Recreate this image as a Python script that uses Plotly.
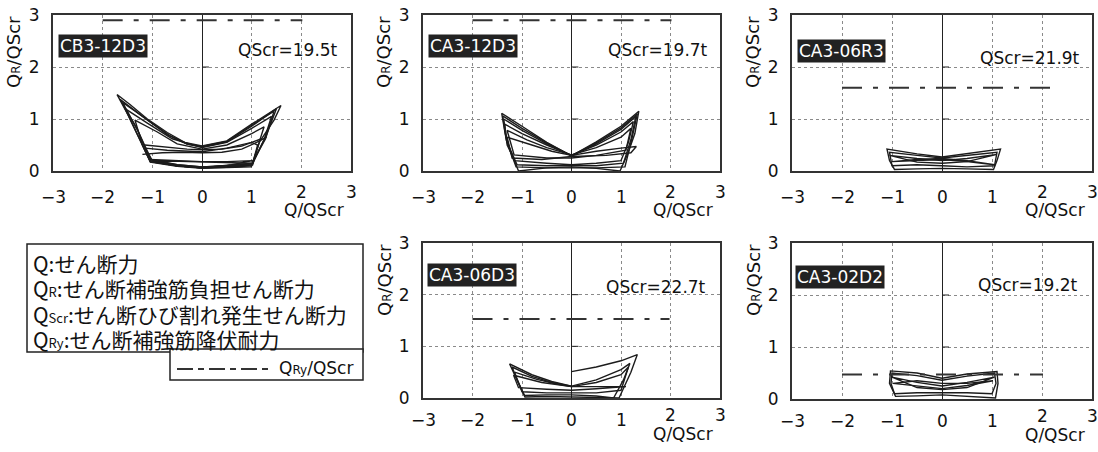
import plotly.graph_objects as go

W, H = 1098, 452

# ---------------- data ----------------
specimens = ["CB3-12D3", "CA3-12D3", "CA3-06R3", "CA3-06D3", "CA3-02D2"]
qscr_t = ["19.5", "19.7", "21.9", "22.7", "19.2"]
qry_ratio = [2.90, 2.90, 1.60, 1.53, 0.47]
qry_x_left = [-2.0, -2.0, -2.0, -2.0, -2.0]
qry_x_right = [2.02, 2.02, 2.22, 1.98, 2.02]

x_ticks = [-3, -2, -1, 0, 1, 2, 3]
x_tick_text = ["−3", "−2", "−1", "0", "1", "2", "3"]
y_ticks = [0, 1, 2, 3]

# hysteresis loops: Q/QScr (x) vs QR/QScr (y)
cb3_12d3_x = [
    [-1.0, -0.5, 0, 0.5, 1.0, 0.5, 0, -0.5, -1.0],
    [-1.05, -0.6, 0, 0.5, 1.02, 0.6, 0, -0.5, -1.05],
    [0, 0.5, 1.0, 1.12, 1.02, 0.5, 0, -0.5, -1.0, -1.15, -0.7, -0.3, 0],
    [0, 0.5, 1.0, 1.25, 1.15, 1.02, 0.5, 0, -0.5, -1.04, -1.2, -1.35, -0.9, -0.5, 0],
    [0, 0.5, 1.0, 1.4, 1.25, 1.0, 0.5, 0, -0.5, -1.04, -1.3, -1.55, -1.1, -0.6, 0],
    [0, 0.5, 1.0, 1.5, 1.3, 1.0, 0.5, 0, -0.5, -1.04, -1.3, -1.65, -1.2, -0.7, -0.3, 0],
    [0, 0.5, 1.0, 1.45, 1.28, 1.0, 0.5, 0, -0.5, -1.02, -1.28, -1.6, -1.15, -0.65, -0.3, 0],
    [0, 0.5, 1.0, 1.35, 1.59, 1.45, 1.3, 1.16, 0.99, 0.5, 0, -0.5, -1.04, -1.25, -1.5, -1.71, -1.45, -1.1, -0.7, -0.35, 0],
    [-1.2, -0.8, -0.4, 0, 0.4, 0.8, 1.1, 1.3],
    [-1.15, -0.7, -0.3, 0, 0.4, 0.8, 1.05, 1.2],
]
cb3_12d3_y = [
    [0.20, 0.19, 0.17, 0.16, 0.15, 0.10, 0.08, 0.12, 0.20],
    [0.22, 0.20, 0.18, 0.18, 0.20, 0.12, 0.06, 0.10, 0.22],
    [0.37, 0.44, 0.55, 0.50, 0.15, 0.10, 0.07, 0.10, 0.20, 0.44, 0.40, 0.38, 0.37],
    [0.42, 0.50, 0.72, 0.85, 0.55, 0.12, 0.08, 0.06, 0.10, 0.18, 0.50, 0.98, 0.75, 0.52, 0.42],
    [0.45, 0.55, 0.82, 1.05, 0.60, 0.10, 0.07, 0.06, 0.10, 0.18, 0.70, 1.20, 0.92, 0.62, 0.45],
    [0.46, 0.56, 0.86, 1.20, 0.70, 0.12, 0.08, 0.06, 0.10, 0.20, 0.80, 1.38, 1.05, 0.70, 0.52, 0.46],
    [0.47, 0.57, 0.88, 1.15, 0.62, 0.14, 0.10, 0.08, 0.12, 0.22, 0.75, 1.32, 1.02, 0.68, 0.52, 0.47],
    [0.48, 0.58, 0.90, 1.12, 1.26, 0.98, 0.76, 0.56, 0.08, 0.06, 0.05, 0.09, 0.17, 0.60, 1.10, 1.47, 1.28, 1.00, 0.74, 0.55, 0.48],
    [0.32, 0.35, 0.36, 0.35, 0.36, 0.42, 0.55, 0.65],
    [0.50, 0.45, 0.42, 0.41, 0.42, 0.48, 0.56, 0.62],
]

ca3_12d3_x = [
    [0, 0.5, 1.0, 1.36, 1.28, 1.14, 0.98, 0.5, 0, -0.5, -1.07, -1.24, -1.34, -1.41, -1.0, -0.5, 0],
    [0, 0.5, 1.0, 1.33, 1.22, 1.08, 0.5, 0, -0.5, -1.12, -1.32, -1.39, -1.0, -0.5, 0],
    [0, 0.5, 1.0, 1.3, 1.2, 1.05, 0.5, 0, -0.5, -1.1, -1.3, -1.37, -1.0, -0.5, 0],
    [0, 0.5, 1.0, 1.25, 1.15, 1.0, 0.5, 0, -0.5, -1.15, -1.3, -1.35, -1.0, -0.5, 0],
    [0, 0.5, 1.0, 1.2, 1.1, 0.5, 0, -0.5, -1.16, -1.3, -0.9, -0.5, 0],
    [0, 0.5, 1.0, 1.31, 1.2, 0.7, 0, -0.6, -1.2, -1.3, -0.8, -0.4, 0],
]
ca3_12d3_y = [
    [0.29, 0.56, 0.86, 1.15, 0.72, 0.34, 0.0, 0.05, 0.08, 0.06, 0.0, 0.40, 0.72, 1.11, 0.86, 0.55, 0.29],
    [0.29, 0.54, 0.83, 1.10, 0.62, 0.08, 0.06, 0.06, 0.06, 0.08, 0.60, 1.06, 0.82, 0.54, 0.29],
    [0.30, 0.52, 0.80, 1.05, 0.60, 0.15, 0.10, 0.10, 0.10, 0.12, 0.55, 1.00, 0.78, 0.52, 0.30],
    [0.30, 0.50, 0.75, 0.95, 0.55, 0.20, 0.15, 0.12, 0.15, 0.20, 0.50, 0.90, 0.72, 0.50, 0.30],
    [0.31, 0.45, 0.65, 0.82, 0.40, 0.30, 0.25, 0.25, 0.31, 0.78, 0.60, 0.45, 0.31],
    [0.30, 0.38, 0.44, 0.47, 0.35, 0.30, 0.28, 0.22, 0.25, 0.65, 0.50, 0.38, 0.30],
]

ca3_06r3_x = [
    [0, 0.5, 1.17, 1.1, 1.03, 0.5, 0, -0.5, -0.95, -1.05, -1.1, -0.5, 0],
    [0, 0.5, 1.1, 1.05, 0.5, 0, -0.5, -1.0, -1.05, -0.5, 0],
    [-1.05, -0.5, 0, 0.5, 1.1, 0.5, 0, -0.5, -1.05],
    [-1.0, -0.5, 0, 0.5, 1.05, 0.5, 0, -0.5, -1.0],
]
ca3_06r3_y = [
    [0.27, 0.33, 0.42, 0.20, 0.03, 0.04, 0.05, 0.04, 0.03, 0.20, 0.42, 0.33, 0.27],
    [0.25, 0.30, 0.36, 0.10, 0.08, 0.10, 0.12, 0.10, 0.36, 0.30, 0.25],
    [0.30, 0.24, 0.20, 0.24, 0.32, 0.18, 0.15, 0.17, 0.30],
    [0.18, 0.20, 0.22, 0.18, 0.12, 0.20, 0.24, 0.22, 0.18],
]

ca3_06d3_x = [
    [0, 0.5, 1.0, 1.33, 1.2, 1.08, 0.96, 0.5, 0, -0.5, -0.94, -1.05, -1.15, -1.25, -0.8, -0.4, 0],
    [0, 0.5, 1.0, 1.18, 1.05, 0.85, 0.5, 0, -0.5, -0.95, -1.1, -1.2, -0.8, -0.4, 0],
    [0, 0.5, 1.0, 1.15, 1.0, 0.5, 0, -0.5, -1.0, -1.15, -0.7, -0.3, 0],
    [0, 0.5, 1.1, 0.5, 0, -0.5, -1.07, -1.17, -0.6, 0],
]
ca3_06d3_y = [
    [0.51, 0.60, 0.72, 0.84, 0.50, 0.25, 0.0, 0.01, 0.02, 0.03, 0.02, 0.25, 0.45, 0.66, 0.45, 0.32, 0.23],
    [0.23, 0.35, 0.55, 0.67, 0.35, 0.0, 0.04, 0.06, 0.06, 0.05, 0.35, 0.60, 0.42, 0.30, 0.23],
    [0.22, 0.30, 0.45, 0.60, 0.15, 0.10, 0.10, 0.10, 0.12, 0.50, 0.36, 0.27, 0.22],
    [0.22, 0.22, 0.22, 0.18, 0.15, 0.17, 0.20, 0.44, 0.30, 0.22],
]

ca3_02d2_x = [
    [0, 0.5, 1.1, 1.12, 1.07, 0.5, 0, -0.5, -0.93, -1.05, -1.03, -0.5, 0],
    [0, 0.5, 1.05, 1.08, 1.0, 0.5, 0, -0.5, -0.95, -1.02, -1.0, -0.5, 0],
    [-1.0, -0.5, 0, 0.5, 1.05, 0.5, 0, -0.5, -1.0],
    [-0.98, -0.5, 0, 0.5, 1.02, 0.5, 0, -0.5, -0.98],
]
ca3_02d2_y = [
    [0.40, 0.48, 0.53, 0.30, 0.02, 0.05, 0.08, 0.06, 0.05, 0.30, 0.54, 0.50, 0.40],
    [0.36, 0.44, 0.50, 0.30, 0.10, 0.12, 0.12, 0.12, 0.10, 0.30, 0.50, 0.45, 0.36],
    [0.42, 0.32, 0.25, 0.32, 0.42, 0.22, 0.18, 0.22, 0.42],
    [0.30, 0.25, 0.20, 0.26, 0.35, 0.30, 0.30, 0.35, 0.30],
]

loops_x = [cb3_12d3_x, ca3_12d3_x, ca3_06r3_x, ca3_06d3_x, ca3_02d2_x]
loops_y = [cb3_12d3_y, ca3_12d3_y, ca3_06r3_y, ca3_06d3_y, ca3_02d2_y]

legend_lines = [
    "Q:せん断力",
    "Q<span style='font-size:13px'>R</span>:せん断補強筋負担せん断力",
    "Q<span style='font-size:13px'>Scr</span>:せん断ひび割れ発生せん断力",
    "Q<span style='font-size:13px'>Ry</span>:せん断補強筋降伏耐力",
]

# ---------------- layout helpers ----------------
FONT = "DejaVu Sans, Noto Sans CJK JP, sans-serif"
JFONT = "Noto Sans CJK JP, DejaVu Sans, sans-serif"

# plot boxes in pixels: left, right, top, bottom
boxes = [(53, 351, 15, 171), (423, 720, 15, 171), (792, 1092, 15, 171),
         (423, 720, 243, 398), (792, 1092, 243, 399)]
label_pos = [(58, 46), (428, 46), (797, 51), (427, 275), (795, 277)]
qscr_pos = [(340, 50), (710, 50), (1082, 58), (708, 287), (1080, 285)]
# offsets below the box for tick labels (normal, raised) and x title
tick_off = [(26, 21), (26, 21), (26, 21), (22, 17), (22, 17)]
xtitle_off = [39, 39, 39, 36, 36]


def px(x):
    return x / W


def py(y):
    return 1 - y / H


fig = go.Figure()
layout = dict(width=W, height=H, margin=dict(l=0, r=0, t=0, b=0, autoexpand=False),
              paper_bgcolor="white", plot_bgcolor="white", showlegend=False)
annotations = []
shapes = []

for i in range(5):
    sfx = "" if i == 0 else str(i + 1)
    xa, ya = "x" + sfx, "y" + sfx
    for lx, ly in zip(loops_x[i], loops_y[i]):
        fig.add_trace(go.Scatter(x=lx, y=ly, mode="lines", xaxis=xa, yaxis=ya,
                                 line=dict(color="#1c1c1c", width=1.4),
                                 hoverinfo="skip"))
    fig.add_trace(go.Scatter(x=[qry_x_left[i], qry_x_right[i]],
                             y=[qry_ratio[i], qry_ratio[i]], mode="lines",
                             xaxis=xa, yaxis=ya,
                             line=dict(color="#333333", width=2,
                                       dash="20px,11px,5px,11px"),
                             hoverinfo="skip"))
    l, r, t, b = boxes[i]
    common = dict(showgrid=True, gridcolor="#8a8a8a", griddash="dot", gridwidth=1,
                  showline=True, linecolor="#333333", linewidth=2, mirror=True,
                  ticks="", automargin=False,
                  tickfont=dict(family=FONT, size=17, color="#111111"))
    layout["xaxis" + sfx] = dict(common, domain=[px(l), px(r)], range=[-3, 3],
                                 tickvals=x_ticks, anchor=ya, zeroline=True,
                                 zerolinecolor="#222222", zerolinewidth=1,
                                 showticklabels=False)
    layout["yaxis" + sfx] = dict(common, domain=[py(b), py(t)], range=[0, 3],
                                 tickvals=y_ticks, anchor=xa, zeroline=False,
                                 ticklabelstandoff=8)
    # x tick labels (the last two sit a little higher, as in the original)
    for tv, tt in zip(x_ticks, x_tick_text):
        off = tick_off[i][1] if tv >= 2 else tick_off[i][0]
        annotations.append(dict(xref=xa, yref="paper", x=tv, y=py(b + off),
                                xanchor="center", yanchor="middle", showarrow=False,
                                text=tt, font=dict(family=FONT, size=17, color="#111111")))
    # small ticks on the centre line
    for yv in y_ticks[1:-1]:
        shapes.append(dict(type="line", xref=xa, yref=ya, x0=0, x1=0.14,
                           y0=yv, y1=yv, line=dict(color="#222222", width=1)))
    # specimen label
    lx0, ly0 = label_pos[i]
    annotations.append(dict(xref="paper", yref="paper", x=px(lx0), y=py(ly0),
                            xanchor="left", yanchor="middle", showarrow=False,
                            text=specimens[i], bgcolor="#222222", borderpad=1,
                            font=dict(family=FONT, size=17, color="white")))
    qx, qy = qscr_pos[i]
    annotations.append(dict(xref="paper", yref="paper", x=px(qx), y=py(qy),
                            xanchor="right", yanchor="middle", showarrow=False,
                            text="QScr=" + qscr_t[i] + "t",
                            font=dict(family=FONT, size=17, color="#111111")))
    # axis titles
    annotations.append(dict(xref="paper", yref="paper", x=px(l - 39), y=py(t + 37),
                            xanchor="center", yanchor="middle", showarrow=False,
                            textangle=-90,
                            text="Q<span style='font-size:12px'>R</span>/QScr",
                            font=dict(family=FONT, size=18, color="#111111")))
    annotations.append(dict(xref="paper", yref="paper", x=px(r - 5), y=py(b + xtitle_off[i]),
                            xanchor="right", yanchor="middle", showarrow=False,
                            text="Q/QScr",
                            font=dict(family=FONT, size=17, color="#111111")))

# ---------------- legend (description box) ----------------
shapes.append(dict(type="rect", xref="paper", yref="paper",
                   x0=px(27), x1=px(363), y0=py(352), y1=py(244),
                   line=dict(color="#222222", width=1.5), fillcolor="white"))
shapes.append(dict(type="rect", xref="paper", yref="paper",
                   x0=px(170), x1=px(363), y0=py(380), y1=py(349),
                   line=dict(color="#222222", width=1.5), fillcolor="white"))
shapes.append(dict(type="line", xref="paper", yref="paper",
                   x0=px(177), x1=px(272), y0=py(369), y1=py(369),
                   line=dict(color="#333333", width=2, dash="16px,5px,6px,5px")))

# one multi-line text block: base size sets the 25 px line pitch,
# the inner span enlarges the glyphs to the width seen in the original
legend_text = "<br>".join("<span style='font-size:21px'>" + s + "</span>" for s in legend_lines)
annotations.append(dict(xref="paper", yref="paper", x=px(31), y=py(301),
                        xanchor="left", yanchor="middle", align="left", showarrow=False,
                        text=legend_text,
                        font=dict(family=JFONT, size=19.5, color="#111111")))
annotations.append(dict(xref="paper", yref="paper", x=px(277), y=py(368),
                        xanchor="left", yanchor="middle", showarrow=False,
                        text="Q<span style='font-size:12px'>Ry</span>/QScr",
                        font=dict(family=FONT, size=17, color="#111111")))

layout["annotations"] = annotations
layout["shapes"] = shapes
fig.update_layout(**layout)
fig.write_html("out.html", config={"displayModeBar": False},
               post_script="document.body.style.margin='0';document.body.style.overflow='hidden';")
